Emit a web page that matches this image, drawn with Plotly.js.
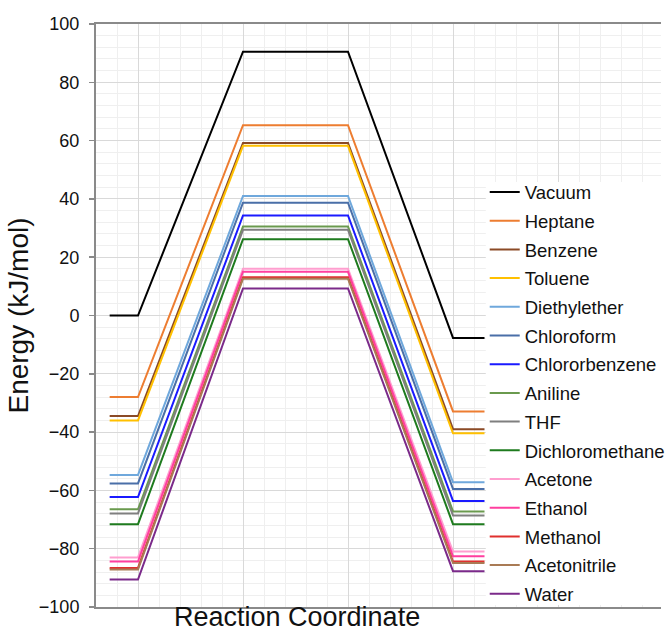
<!DOCTYPE html>
<html>
<head>
<meta charset="utf-8">
<script src="https://cdn.plot.ly/plotly-3.0.1.min.js"></script>
<style>
  html, body { margin: 0; padding: 0; background: #ffffff; }
  #chart { width: 670px; height: 635px; }
</style>
</head>
<body>
<div id="chart"></div>
<script>
// ---- data ----
const solvents = ['Vacuum', 'Heptane', 'Benzene', 'Toluene', 'Diethylether', 'Chloroform',
  'Chlororbenzene', 'Aniline', 'THF', 'Dichloromethane', 'Acetone', 'Ethanol',
  'Methanol', 'Acetonitrile', 'Water'];
// reaction coordinate positions: reactant plateau, TS plateau, product plateau
const coordPoints = [0.73, 1, 2, 3, 4, 4.3];
const reactantEnergy = [0, -28.0, -34.5, -36.0, -54.7, -57.6, -62.3, -66.5, -67.9, -71.6, -83.0, -84.4, -86.6, -87.1, -90.6];
const tsEnergy       = [90.5, 65.3, 59.2, 58.2, 41.0, 38.7, 34.3, 30.5, 29.4, 26.2, 16.0, 15.0, 13.1, 12.6, 9.3];
const productEnergy  = [-7.7, -32.9, -39.0, -40.4, -57.2, -59.5, -63.6, -67.2, -68.6, -71.6, -81.0, -82.6, -84.4, -84.9, -87.7];
const seriesColors = ['#000000', '#ED7D31', '#8B4A26', '#FFC000', '#6FA8DC', '#4A6FA8',
  '#1A1AFF', '#6A9A4E', '#7F7F7F', '#1E7B1E', '#FF9ECF', '#FF3F9F',
  '#E0302E', '#A97B55', '#7B2A8A'];

const FONT = '"Liberation Sans", Arial, Helvetica, sans-serif';

const traces = solvents.map((name, i) => ({
  type: 'scatter',
  mode: 'lines',
  name: name,
  legendgroup: 'g' + i,
  x: coordPoints,
  y: [reactantEnergy[i], reactantEnergy[i], tsEnergy[i], tsEnergy[i], productEnergy[i], productEnergy[i]],
  line: { color: seriesColors[i], width: 2 },
  hoverinfo: 'x+y+name'
}));

const layout = {
  width: 670,
  height: 635,
  margin: { l: 96, r: 0, t: 24, b: 28, pad: 0 },
  paper_bgcolor: '#ffffff',
  plot_bgcolor: '#ffffff',
  font: { family: FONT, color: '#111111', size: 17 },
  showlegend: true,
  legend: {
    x: 0.688, xanchor: 'left',
    y: 0.7436, yanchor: 'top',
    bgcolor: 'rgba(255,255,255,0)',
    borderwidth: 0,
    font: { family: FONT, size: 18.5, color: '#111111' },
    tracegroupgap: 1.65,
    itemwidth: 30
  },
  // white backing panel behind the legend (hides grid/lines like the reference legend box)
  shapes: [{
    type: 'rect', layer: 'above',
    xref: 'paper', yref: 'paper',
    x0: (492 - 96) / 574, x1: 1.01,
    y0: (607 - 605) / 583, y1: (607 - 182) / 583,
    fillcolor: '#ffffff', line: { width: 0 }
  }],
  xaxis: {
    range: [0.6, 5.981],
    showticklabels: false,
    ticks: '',
    dtick: 1, tick0: 0,
    showgrid: true, gridcolor: '#d9d9d9', gridwidth: 1,
    minor: { dtick: 0.2, tick0: 0, showgrid: true, gridcolor: '#efefef', gridwidth: 1, ticks: '' },
    zeroline: false,
    showline: true, linecolor: '#8a8a8a', linewidth: 2, mirror: true,
    fixedrange: true
  },
  yaxis: {
    range: [-100, 100],
    dtick: 20, tick0: 0,
    ticks: 'outside', ticklen: 5, tickwidth: 1.5, tickcolor: '#8a8a8a',
    ticklabelstandoff: 6,
    tickfont: { family: FONT, size: 18, color: '#111111' },
    showgrid: true, gridcolor: '#d9d9d9', gridwidth: 1,
    minor: { dtick: 4, tick0: 0, showgrid: true, gridcolor: '#efefef', gridwidth: 1, ticks: '' },
    zeroline: false,
    showline: true, linecolor: '#8a8a8a', linewidth: 2,
    title: { text: 'Energy (kJ/mol)', font: { family: FONT, size: 28, color: '#111111' }, standoff: 2 },
    fixedrange: true
  },
  annotations: [{
    text: 'Reaction Coordinate',
    xref: 'paper', yref: 'paper',
    x: (300 - 96) / 574, y: -(617 - 607) / 583,
    xanchor: 'center', yanchor: 'middle',
    showarrow: false, borderpad: 0,
    font: { family: FONT, size: 27, color: '#111111' }
  }]
};

Plotly.newPlot('chart', traces, layout, { displayModeBar: false, staticPlot: true });
</script>
</body>
</html>
